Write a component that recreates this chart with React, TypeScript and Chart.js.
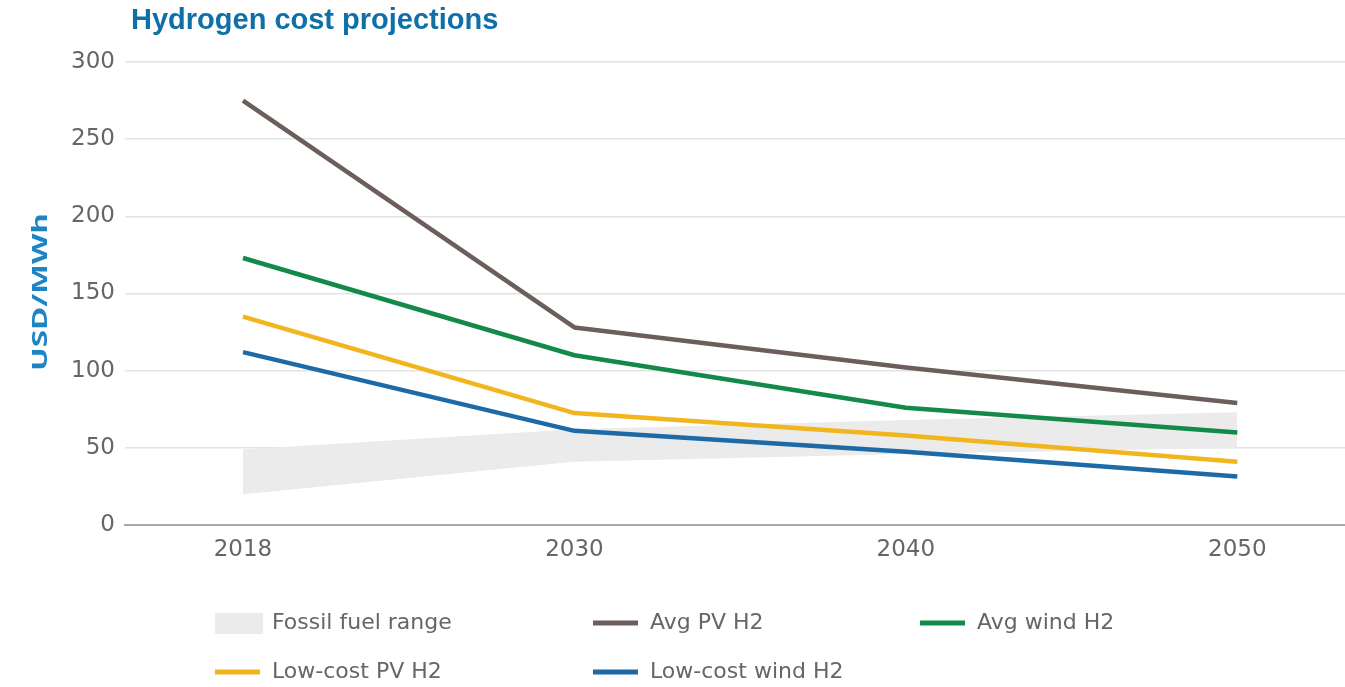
import React, { useEffect, useRef } from "react";
import { Chart, registerables } from "chart.js";

Chart.register(...registerables);

// Categories along the x axis (evenly spaced)
const years = ["2018", "2030", "2040", "2050"];

// Cost series, USD/MWh
const avgPvH2 = [275, 128, 102, 79];
const avgWindH2 = [173, 110, 76, 60];
const lowCostPvH2 = [135, 72.5, 58, 41];
const lowCostWindH2 = [112, 61, 47.5, 31.5];

// Fossil fuel cost band, USD/MWh
const fossilLow = [20, 41, 46, 50];
const fossilHigh = [49, 62, 68, 73];

// Y axis ticks
const yTicks = [0, 50, 100, 150, 200, 250, 300];

const COLORS = {
  avgPv: "#6b5e5b",
  avgWind: "#13894a",
  lowPv: "#f1b51d",
  lowWind: "#1d6aa6",
  fossil: "#ebebeb",
  title: "#0f70a7",
  axisTitle: "#1e85c4",
  text: "#666666",
};

const TICK_FONT = "'DejaVu Sans', 'Open Sans', sans-serif";

const toPoints = (values: number[]) => values.map((v, i) => ({ x: i, y: v }));

type LegendItem = { label: string; color: string; kind: "box" | "line"; x: number; y: number };

const legendItems: LegendItem[] = [
  { label: "Fossil fuel range", color: COLORS.fossil, kind: "box", x: 215, y: 623 },
  { label: "Avg PV H2", color: COLORS.avgPv, kind: "line", x: 593, y: 623 },
  { label: "Avg wind H2", color: COLORS.avgWind, kind: "line", x: 920, y: 623 },
  { label: "Low-cost PV H2", color: COLORS.lowPv, kind: "line", x: 215, y: 672 },
  { label: "Low-cost wind H2", color: COLORS.lowWind, kind: "line", x: 593, y: 672 },
];

// Title, rotated axis title and two-row legend drawn on the canvas
const decorations = {
  id: "decorations",
  afterDraw(chart: Chart) {
    const ctx = chart.ctx;
    ctx.save();

    // Title
    ctx.fillStyle = COLORS.title;
    ctx.font = "bold 29px 'Liberation Sans', Arial, sans-serif";
    ctx.textAlign = "left";
    ctx.textBaseline = "middle";
    ctx.fillText("Hydrogen cost projections", 131, 21);

    // Y axis title
    ctx.save();
    ctx.translate(40, 292);
    ctx.rotate(-Math.PI / 2);
    ctx.font = "bold 22px 'Open Sans', 'DejaVu Sans', sans-serif";
    const w = ctx.measureText("USD/MWh").width;
    ctx.scale(158 / w, 1);
    ctx.fillStyle = COLORS.axisTitle;
    ctx.textAlign = "center";
    ctx.textBaseline = "middle";
    ctx.fillText("USD/MWh", 0, 1);
    ctx.restore();

    // Legend
    ctx.font = `22px ${TICK_FONT}`;
    ctx.textAlign = "left";
    ctx.textBaseline = "middle";
    for (const item of legendItems) {
      ctx.fillStyle = item.color;
      if (item.kind === "box") {
        ctx.fillRect(item.x, item.y - 10, 48, 21);
      } else {
        ctx.fillRect(item.x, item.y - 2.5, 45, 5);
      }
      ctx.fillStyle = COLORS.text;
      ctx.fillText(item.label, item.x + 57, item.y);
    }
    ctx.restore();
  },
};

export default function App() {
  const canvasRef = useRef<HTMLCanvasElement | null>(null);

  useEffect(() => {
    const canvas = canvasRef.current;
    if (!canvas) return;

    const lineDataset = (label: string, values: number[], color: string) => ({
      label,
      data: toPoints(values),
      borderColor: color,
      backgroundColor: color,
      borderWidth: 4.5,
      pointRadius: 0,
      tension: 0,
      fill: false,
      order: 1,
      borderJoinStyle: "round" as const,
      borderCapStyle: "butt" as const,
    });

    const chart = new Chart(canvas, {
      type: "line",
      data: {
        datasets: [
          {
            label: "Fossil fuel low",
            data: toPoints(fossilLow),
            borderWidth: 0,
            borderColor: "transparent",
            pointRadius: 0,
            fill: false,
            order: 10,
          },
          {
            label: "Fossil fuel range",
            data: toPoints(fossilHigh),
            borderWidth: 0,
            borderColor: "transparent",
            backgroundColor: COLORS.fossil,
            pointRadius: 0,
            fill: "-1",
            order: 10,
          },
          lineDataset("Avg PV H2", avgPvH2, COLORS.avgPv),
          lineDataset("Avg wind H2", avgWindH2, COLORS.avgWind),
          lineDataset("Low-cost PV H2", lowCostPvH2, COLORS.lowPv),
          lineDataset("Low-cost wind H2", lowCostWindH2, COLORS.lowWind),
        ],
      },
      options: {
        animation: false,
        responsive: false,
        devicePixelRatio: 1,
        layout: { padding: { top: 62, right: 0, bottom: 0, left: 0 } },
        plugins: {
          legend: { display: false },
          title: { display: false },
          tooltip: { enabled: false },
          filler: { drawTime: "beforeDatasetsDraw" },
        },
        scales: {
          x: {
            type: "linear",
            min: -0.356,
            max: 3.325,
            afterBuildTicks: (axis: any) => {
              axis.ticks = years.map((_, i) => ({ value: i }));
            },
            afterFit: (axis: any) => {
              axis.height = 162;
            },
            ticks: {
              callback: (v: any) => years[Number(v)] ?? "",
              color: COLORS.text,
              font: { family: TICK_FONT, size: 23 },
              padding: 11,
              maxRotation: 0,
            },
            grid: { display: false, drawTicks: false },
            border: { display: true, color: "#a9a9a9", width: 2 },
          },
          y: {
            type: "linear",
            min: 0,
            max: 300,
            afterBuildTicks: (axis: any) => {
              axis.ticks = yTicks.map((v) => ({ value: v }));
            },
            afterFit: (axis: any) => {
              axis.width = 125;
            },
            ticks: {
              color: COLORS.text,
              font: { family: TICK_FONT, size: 23 },
              padding: 10,
            },
            grid: {
              drawTicks: false,
              color: (c: any) => (c.tick && c.tick.value === 0 ? "rgba(0,0,0,0)" : "#e3e3e3"),
              lineWidth: 1.5,
            },
            border: { display: false },
          },
        },
      },
      plugins: [decorations],
    });

    return () => chart.destroy();
  }, []);

  return (
    <div style={{ position: "fixed", left: 0, top: 0, width: 1345, height: 687, background: "#fff" }}>
      <canvas ref={canvasRef} width={1345} height={687} style={{ display: "block" }} />
    </div>
  );
}
